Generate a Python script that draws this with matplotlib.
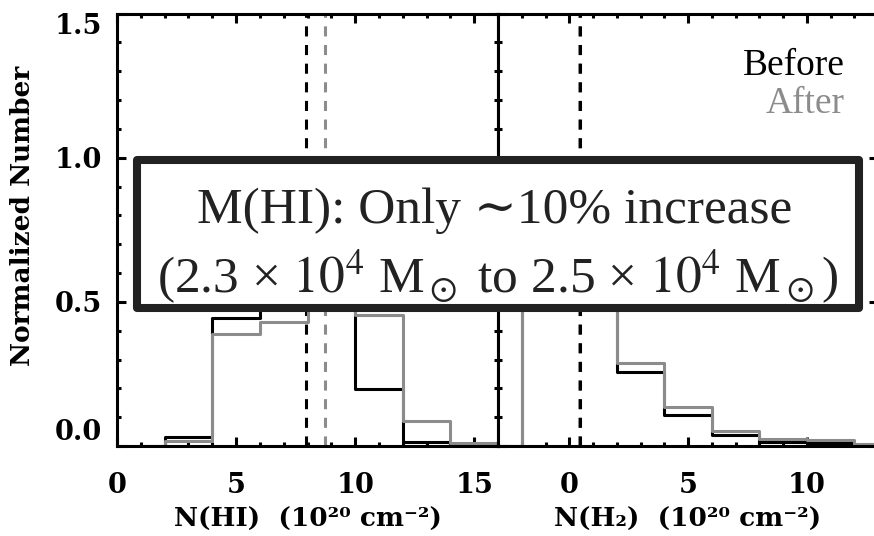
import matplotlib.pyplot as plt
import numpy as np
from matplotlib.patches import Rectangle
from matplotlib.ticker import MultipleLocator

# N(HI) histogram (bin centres, 1e20 cm^-2), normalised to peak
hi_centers = [1, 3, 5, 7, 9, 11, 13, 15, 17]
hi_before = [0.0, 0.03, 0.444, 0.72, 1.0, 0.197, 0.013, 0.0, 0.0]
hi_after = [0.0, 0.018, 0.388, 0.431, 1.0, 0.455, 0.085, 0.011, 0.0]
hi_mean_before = 7.95
hi_mean_after = 8.74

# N(H2) histogram
h2_centers = [-3, -1, 1, 3, 5, 7, 9, 11, 13, 15]
h2_before = [0.0, 0.6, 1.0, 0.257, 0.107, 0.038, 0.015, 0.009, 0.0, 0.0]
h2_after = [0.0, 0.6, 1.0, 0.287, 0.136, 0.053, 0.023, 0.02, 0.006, 0.0]
h2_mean_before = 0.47
h2_mean_after = 0.40

yticks = [0.0, 0.5, 1.0, 1.5]
ytick_labels = ['0.0', '0.5', '1.0', '1.5']
hi_xticks = [0, 5, 10, 15]
h2_xticks = [0, 5, 10]

GRAY = '#8c8c8c'
LW = 2.2
lab_font = dict(family='DejaVu Serif', weight='bold')
serif = ['Liberation Serif', 'DejaVu Serif']

W, H = 874, 536
fig = plt.figure(figsize=(W / 100, H / 100), dpi=100)
ax1 = fig.add_axes([117 / W, 1 - 446 / H, 381 / W, 432.5 / H])
ax2 = fig.add_axes([498 / W, 1 - 446 / H, 380 / W, 432.5 / H])


def style(ax):
    for s in ax.spines.values():
        s.set_linewidth(LW)
    ax.tick_params(which='both', direction='in', top=True, right=True, width=LW)
    ax.tick_params(which='major', length=6.5)
    ax.tick_params(which='minor', length=3.2)
    ax.tick_params(axis='x', pad=19)
    ax.tick_params(axis='y', pad=10.5)
    ax.xaxis.set_minor_locator(MultipleLocator(1))
    ax.yaxis.set_minor_locator(MultipleLocator(0.1))
    ax.set_ylim(0, 1.5)
    ax.set_yticks(yticks)
    for lab in ax.get_xticklabels() + ax.get_yticklabels():
        lab.set_fontfamily('DejaVu Serif')
        lab.set_fontweight('bold')
        lab.set_fontsize(19.5)


def hist(ax, centers, before, after, m_before, m_after):
    ax.axvline(m_after, color=GRAY, lw=LW, dashes=(3.3, 2.8))
    ax.axvline(m_before, color='black', lw=LW, dashes=(3.3, 2.8))
    ax.plot(centers, before, drawstyle='steps-mid', color='black', lw=LW)
    ax.plot(centers, after, drawstyle='steps-mid', color=GRAY, lw=LW)


hist(ax1, hi_centers, hi_before, hi_after, hi_mean_before, hi_mean_after)
hist(ax2, h2_centers, h2_before, h2_after, h2_mean_before, h2_mean_after)

ax1.set_xlim(0, 16)
ax1.set_xticks(hi_xticks)
ax1.set_yticklabels(ytick_labels)
ax2.set_xlim(-3, 13)
ax2.set_xticks(h2_xticks)
ax2.set_yticklabels([])
style(ax1)
style(ax2)

# end labels sit inside the axis range
for lab in ax1.get_yticklabels():
    if lab.get_text() == '0.0':
        lab.set_va('bottom')
    elif lab.get_text() == '1.5':
        lab.set_va('top')

ax1.set_xlabel('N(HI)  (10²⁰ cm⁻²)', fontsize=19, va='baseline', **lab_font)
ax1.xaxis.set_label_coords(0.5, -0.187)
ax2.set_xlabel('N(H₂)  (10²⁰ cm⁻²)', fontsize=19, va='baseline', **lab_font)
ax2.xaxis.set_label_coords(0.5, -0.187)
ax1.set_ylabel('Normalized Number', fontsize=19, va='center', **lab_font)
ax1.yaxis.set_label_coords(-0.249, 0.532)

ax2.text(0.913, 0.858, 'Before', transform=ax2.transAxes, ha='right',
         va='baseline', fontsize=27, family=serif, color='black')
ax2.text(0.913, 0.770, 'After', transform=ax2.transAxes, ha='right',
         va='baseline', fontsize=27, family=serif, color=GRAY)

# summary box on top of both panels
box = Rectangle((137 / W, 1 - 308 / H), (859 - 137) / W, (308 - 160) / H,
                transform=fig.transFigure, facecolor='white', edgecolor='#222222',
                lw=5.8, joinstyle='round', zorder=10)
fig.add_artist(box)
fig.text(494.5 / W, 1 - 223 / H, 'M(HI): Only ∼10% increase',
         ha='center', va='baseline', fontsize=37, family=serif,
         color='#222222', zorder=11)
fig.text(498 / W, 1 - 293 / H,
         r'(2.3 × $10^4$ M$_\odot$ to 2.5 × $10^4$ M$_\odot$)',
         ha='center', va='baseline', fontsize=37, family=serif,
         math_fontfamily='stix', color='#222222', zorder=11)

fig.savefig('out.png', dpi=100)
